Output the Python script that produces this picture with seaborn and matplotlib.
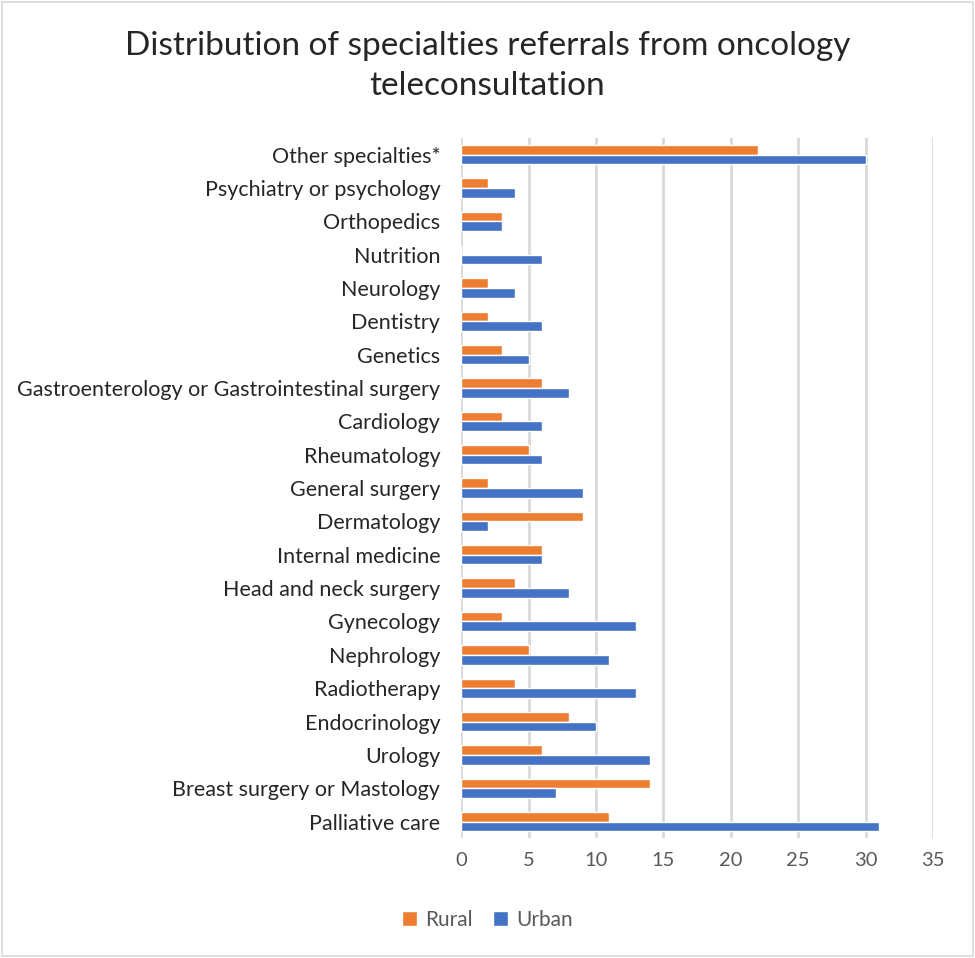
import pandas as pd
import matplotlib.pyplot as plt
import seaborn as sns
from matplotlib.patches import Rectangle

# categories listed top to bottom as in the chart
specialties = [
    "Other specialties*", "Psychiatry or psychology", "Orthopedics", "Nutrition",
    "Neurology", "Dentistry", "Genetics", "Gastroenterology or Gastrointestinal surgery",
    "Cardiology", "Rheumatology", "General surgery", "Dermatology", "Internal medicine",
    "Head and neck surgery", "Gynecology", "Nephrology", "Radiotherapy", "Endocrinology",
    "Urology", "Breast surgery or Mastology", "Palliative care",
]
rural = [22, 2, 3, 0, 2, 2, 3, 6, 3, 5, 2, 9, 6, 4, 3, 5, 4, 8, 6, 14, 11]
urban = [30, 4, 3, 6, 4, 6, 5, 8, 6, 6, 9, 2, 6, 8, 13, 11, 13, 10, 14, 7, 31]
x_ticks = [0, 5, 10, 15, 20, 25, 30, 35]

df = pd.DataFrame({
    "Specialty": specialties * 2,
    "Count": rural + urban,
    "Area": ["Rural"] * len(rural) + ["Urban"] * len(urban),
})

sns.set_style("white")
plt.rcParams["font.family"] = ["Lato", "DejaVu Sans"]

fig = plt.figure(figsize=(9.75, 9.58), dpi=100)
ax = fig.add_axes([0.473, 0.125, 0.484, 0.731])

sns.barplot(
    data=df, x="Count", y="Specialty", hue="Area", order=specialties,
    hue_order=["Rural", "Urban"], palette={"Rural": "#ED7D31", "Urban": "#4472C4"},
    width=0.58, saturation=1, orient="h", ax=ax, legend=True,
)

ax.set_xlim(0, 35)
ax.set_xticks(x_ticks)
ax.set_xlabel("")
ax.set_ylabel("")
ax.grid(axis="x", color="#d9d9d9", linewidth=2)
ax.set_axisbelow(True)
sns.despine(ax=ax, left=True, bottom=True)
ax.tick_params(axis="y", length=0, colors="#262626", labelsize=15.5, pad=15)
ax.tick_params(axis="x", length=0, colors="#595959", labelsize=14.5, pad=10)

fig.suptitle("Distribution of specialties referrals from oncology\nteleconsultation",
             x=0.5, y=0.968, fontsize=24, color="#262626", linespacing=1.45)

leg = ax.legend(loc="center", bbox_to_anchor=(0.5, 0.04), bbox_transform=fig.transFigure,
                ncol=2, frameon=False, fontsize=15,
                handlelength=0.7, handleheight=0.7, handletextpad=0.4, columnspacing=1.0)
for t in leg.get_texts():
    t.set_color("#595959")

fig.patches.append(Rectangle((0.002, 0.002), 0.996, 0.996, transform=fig.transFigure,
                             fill=False, edgecolor="#d9d9d9", linewidth=1.2))

fig.savefig("out.png", dpi=100)
